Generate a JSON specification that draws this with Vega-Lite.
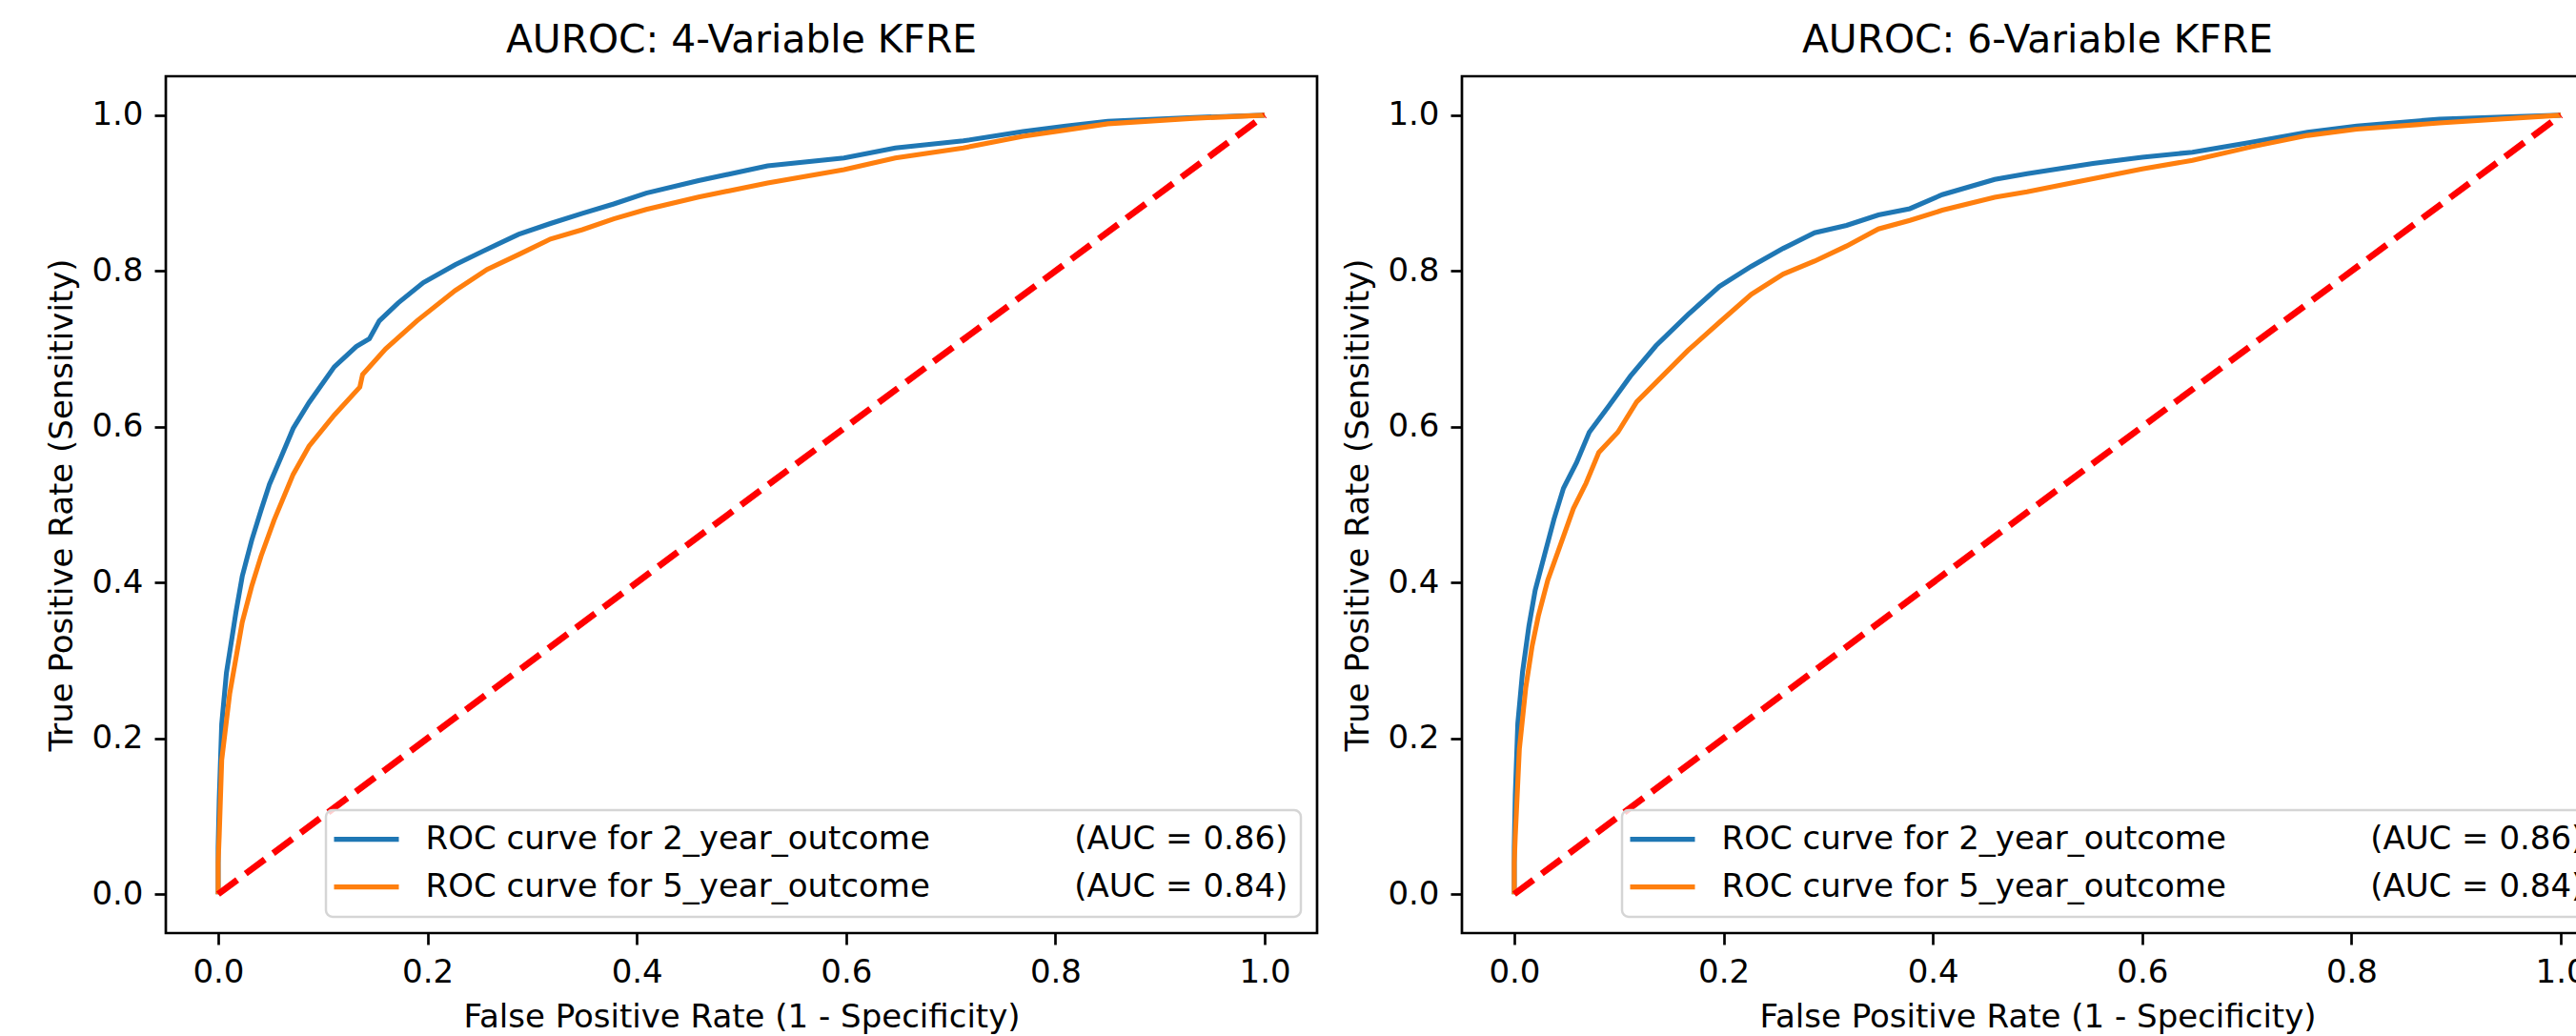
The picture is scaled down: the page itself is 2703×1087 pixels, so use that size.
{
  "$schema": "https://vega.github.io/schema/vega-lite/v6.json",
  "background": "white",
  "padding": {"left": 47, "top": 20, "right": 0, "bottom": 0},
  "bounds": "flush",
  "spacing": 152,
  "datasets": {
    "roc": [
      {"model": "4-Variable KFRE", "curve": "ROC curve for 2_year_outcome (AUC = 0.86)", "fpr": 0, "tpr": 0},
      {"model": "4-Variable KFRE", "curve": "ROC curve for 2_year_outcome (AUC = 0.86)", "fpr": 0, "tpr": 0.06},
      {"model": "4-Variable KFRE", "curve": "ROC curve for 2_year_outcome (AUC = 0.86)", "fpr": 0.001, "tpr": 0.12},
      {"model": "4-Variable KFRE", "curve": "ROC curve for 2_year_outcome (AUC = 0.86)", "fpr": 0.0034, "tpr": 0.218},
      {"model": "4-Variable KFRE", "curve": "ROC curve for 2_year_outcome (AUC = 0.86)", "fpr": 0.0079, "tpr": 0.284},
      {"model": "4-Variable KFRE", "curve": "ROC curve for 2_year_outcome (AUC = 0.86)", "fpr": 0.014, "tpr": 0.336},
      {"model": "4-Variable KFRE", "curve": "ROC curve for 2_year_outcome (AUC = 0.86)", "fpr": 0.017, "tpr": 0.362},
      {"model": "4-Variable KFRE", "curve": "ROC curve for 2_year_outcome (AUC = 0.86)", "fpr": 0.023, "tpr": 0.408},
      {"model": "4-Variable KFRE", "curve": "ROC curve for 2_year_outcome (AUC = 0.86)", "fpr": 0.032, "tpr": 0.454},
      {"model": "4-Variable KFRE", "curve": "ROC curve for 2_year_outcome (AUC = 0.86)", "fpr": 0.041, "tpr": 0.493},
      {"model": "4-Variable KFRE", "curve": "ROC curve for 2_year_outcome (AUC = 0.86)", "fpr": 0.049, "tpr": 0.526},
      {"model": "4-Variable KFRE", "curve": "ROC curve for 2_year_outcome (AUC = 0.86)", "fpr": 0.0595, "tpr": 0.559},
      {"model": "4-Variable KFRE", "curve": "ROC curve for 2_year_outcome (AUC = 0.86)", "fpr": 0.0717, "tpr": 0.598},
      {"model": "4-Variable KFRE", "curve": "ROC curve for 2_year_outcome (AUC = 0.86)", "fpr": 0.0868, "tpr": 0.631},
      {"model": "4-Variable KFRE", "curve": "ROC curve for 2_year_outcome (AUC = 0.86)", "fpr": 0.111, "tpr": 0.677},
      {"model": "4-Variable KFRE", "curve": "ROC curve for 2_year_outcome (AUC = 0.86)", "fpr": 0.132, "tpr": 0.703},
      {"model": "4-Variable KFRE", "curve": "ROC curve for 2_year_outcome (AUC = 0.86)", "fpr": 0.1445, "tpr": 0.713},
      {"model": "4-Variable KFRE", "curve": "ROC curve for 2_year_outcome (AUC = 0.86)", "fpr": 0.154, "tpr": 0.736},
      {"model": "4-Variable KFRE", "curve": "ROC curve for 2_year_outcome (AUC = 0.86)", "fpr": 0.172, "tpr": 0.759},
      {"model": "4-Variable KFRE", "curve": "ROC curve for 2_year_outcome (AUC = 0.86)", "fpr": 0.196, "tpr": 0.785},
      {"model": "4-Variable KFRE", "curve": "ROC curve for 2_year_outcome (AUC = 0.86)", "fpr": 0.2265, "tpr": 0.808},
      {"model": "4-Variable KFRE", "curve": "ROC curve for 2_year_outcome (AUC = 0.86)", "fpr": 0.257, "tpr": 0.828},
      {"model": "4-Variable KFRE", "curve": "ROC curve for 2_year_outcome (AUC = 0.86)", "fpr": 0.287, "tpr": 0.847},
      {"model": "4-Variable KFRE", "curve": "ROC curve for 2_year_outcome (AUC = 0.86)", "fpr": 0.3175, "tpr": 0.861},
      {"model": "4-Variable KFRE", "curve": "ROC curve for 2_year_outcome (AUC = 0.86)", "fpr": 0.348, "tpr": 0.874},
      {"model": "4-Variable KFRE", "curve": "ROC curve for 2_year_outcome (AUC = 0.86)", "fpr": 0.378, "tpr": 0.886},
      {"model": "4-Variable KFRE", "curve": "ROC curve for 2_year_outcome (AUC = 0.86)", "fpr": 0.409, "tpr": 0.9},
      {"model": "4-Variable KFRE", "curve": "ROC curve for 2_year_outcome (AUC = 0.86)", "fpr": 0.459, "tpr": 0.916},
      {"model": "4-Variable KFRE", "curve": "ROC curve for 2_year_outcome (AUC = 0.86)", "fpr": 0.525, "tpr": 0.935},
      {"model": "4-Variable KFRE", "curve": "ROC curve for 2_year_outcome (AUC = 0.86)", "fpr": 0.598, "tpr": 0.945},
      {"model": "4-Variable KFRE", "curve": "ROC curve for 2_year_outcome (AUC = 0.86)", "fpr": 0.647, "tpr": 0.958},
      {"model": "4-Variable KFRE", "curve": "ROC curve for 2_year_outcome (AUC = 0.86)", "fpr": 0.712, "tpr": 0.967},
      {"model": "4-Variable KFRE", "curve": "ROC curve for 2_year_outcome (AUC = 0.86)", "fpr": 0.769, "tpr": 0.979},
      {"model": "4-Variable KFRE", "curve": "ROC curve for 2_year_outcome (AUC = 0.86)", "fpr": 0.81, "tpr": 0.986},
      {"model": "4-Variable KFRE", "curve": "ROC curve for 2_year_outcome (AUC = 0.86)", "fpr": 0.85, "tpr": 0.992},
      {"model": "4-Variable KFRE", "curve": "ROC curve for 2_year_outcome (AUC = 0.86)", "fpr": 0.932, "tpr": 0.997},
      {"model": "4-Variable KFRE", "curve": "ROC curve for 2_year_outcome (AUC = 0.86)", "fpr": 1, "tpr": 1},
      {"model": "4-Variable KFRE", "curve": "ROC curve for 5_year_outcome (AUC = 0.84)", "fpr": 0, "tpr": 0},
      {"model": "4-Variable KFRE", "curve": "ROC curve for 5_year_outcome (AUC = 0.84)", "fpr": 0, "tpr": 0.04},
      {"model": "4-Variable KFRE", "curve": "ROC curve for 5_year_outcome (AUC = 0.84)", "fpr": 0.001, "tpr": 0.074},
      {"model": "4-Variable KFRE", "curve": "ROC curve for 5_year_outcome (AUC = 0.84)", "fpr": 0.0034, "tpr": 0.172},
      {"model": "4-Variable KFRE", "curve": "ROC curve for 5_year_outcome (AUC = 0.84)", "fpr": 0.011, "tpr": 0.257},
      {"model": "4-Variable KFRE", "curve": "ROC curve for 5_year_outcome (AUC = 0.84)", "fpr": 0.017, "tpr": 0.303},
      {"model": "4-Variable KFRE", "curve": "ROC curve for 5_year_outcome (AUC = 0.84)", "fpr": 0.023, "tpr": 0.349},
      {"model": "4-Variable KFRE", "curve": "ROC curve for 5_year_outcome (AUC = 0.84)", "fpr": 0.032, "tpr": 0.395},
      {"model": "4-Variable KFRE", "curve": "ROC curve for 5_year_outcome (AUC = 0.84)", "fpr": 0.041, "tpr": 0.434},
      {"model": "4-Variable KFRE", "curve": "ROC curve for 5_year_outcome (AUC = 0.84)", "fpr": 0.0534, "tpr": 0.48},
      {"model": "4-Variable KFRE", "curve": "ROC curve for 5_year_outcome (AUC = 0.84)", "fpr": 0.0717, "tpr": 0.539},
      {"model": "4-Variable KFRE", "curve": "ROC curve for 5_year_outcome (AUC = 0.84)", "fpr": 0.0868, "tpr": 0.575},
      {"model": "4-Variable KFRE", "curve": "ROC curve for 5_year_outcome (AUC = 0.84)", "fpr": 0.111, "tpr": 0.615},
      {"model": "4-Variable KFRE", "curve": "ROC curve for 5_year_outcome (AUC = 0.84)", "fpr": 0.1354, "tpr": 0.651},
      {"model": "4-Variable KFRE", "curve": "ROC curve for 5_year_outcome (AUC = 0.84)", "fpr": 0.138, "tpr": 0.667},
      {"model": "4-Variable KFRE", "curve": "ROC curve for 5_year_outcome (AUC = 0.84)", "fpr": 0.16, "tpr": 0.7},
      {"model": "4-Variable KFRE", "curve": "ROC curve for 5_year_outcome (AUC = 0.84)", "fpr": 0.19, "tpr": 0.736},
      {"model": "4-Variable KFRE", "curve": "ROC curve for 5_year_outcome (AUC = 0.84)", "fpr": 0.2265, "tpr": 0.775},
      {"model": "4-Variable KFRE", "curve": "ROC curve for 5_year_outcome (AUC = 0.84)", "fpr": 0.257, "tpr": 0.802},
      {"model": "4-Variable KFRE", "curve": "ROC curve for 5_year_outcome (AUC = 0.84)", "fpr": 0.287, "tpr": 0.821},
      {"model": "4-Variable KFRE", "curve": "ROC curve for 5_year_outcome (AUC = 0.84)", "fpr": 0.3175, "tpr": 0.841},
      {"model": "4-Variable KFRE", "curve": "ROC curve for 5_year_outcome (AUC = 0.84)", "fpr": 0.348, "tpr": 0.853},
      {"model": "4-Variable KFRE", "curve": "ROC curve for 5_year_outcome (AUC = 0.84)", "fpr": 0.378, "tpr": 0.867},
      {"model": "4-Variable KFRE", "curve": "ROC curve for 5_year_outcome (AUC = 0.84)", "fpr": 0.409, "tpr": 0.879},
      {"model": "4-Variable KFRE", "curve": "ROC curve for 5_year_outcome (AUC = 0.84)", "fpr": 0.459, "tpr": 0.895},
      {"model": "4-Variable KFRE", "curve": "ROC curve for 5_year_outcome (AUC = 0.84)", "fpr": 0.525, "tpr": 0.913},
      {"model": "4-Variable KFRE", "curve": "ROC curve for 5_year_outcome (AUC = 0.84)", "fpr": 0.598, "tpr": 0.93},
      {"model": "4-Variable KFRE", "curve": "ROC curve for 5_year_outcome (AUC = 0.84)", "fpr": 0.647, "tpr": 0.945},
      {"model": "4-Variable KFRE", "curve": "ROC curve for 5_year_outcome (AUC = 0.84)", "fpr": 0.712, "tpr": 0.958},
      {"model": "4-Variable KFRE", "curve": "ROC curve for 5_year_outcome (AUC = 0.84)", "fpr": 0.769, "tpr": 0.973},
      {"model": "4-Variable KFRE", "curve": "ROC curve for 5_year_outcome (AUC = 0.84)", "fpr": 0.81, "tpr": 0.981},
      {"model": "4-Variable KFRE", "curve": "ROC curve for 5_year_outcome (AUC = 0.84)", "fpr": 0.85, "tpr": 0.989},
      {"model": "4-Variable KFRE", "curve": "ROC curve for 5_year_outcome (AUC = 0.84)", "fpr": 0.932, "tpr": 0.996},
      {"model": "4-Variable KFRE", "curve": "ROC curve for 5_year_outcome (AUC = 0.84)", "fpr": 1, "tpr": 1},
      {"model": "6-Variable KFRE", "curve": "ROC curve for 2_year_outcome (AUC = 0.86)", "fpr": 0, "tpr": 0},
      {"model": "6-Variable KFRE", "curve": "ROC curve for 2_year_outcome (AUC = 0.86)", "fpr": 0, "tpr": 0.06},
      {"model": "6-Variable KFRE", "curve": "ROC curve for 2_year_outcome (AUC = 0.86)", "fpr": 0.001, "tpr": 0.128},
      {"model": "6-Variable KFRE", "curve": "ROC curve for 2_year_outcome (AUC = 0.86)", "fpr": 0.0034, "tpr": 0.219},
      {"model": "6-Variable KFRE", "curve": "ROC curve for 2_year_outcome (AUC = 0.86)", "fpr": 0.0079, "tpr": 0.285},
      {"model": "6-Variable KFRE", "curve": "ROC curve for 2_year_outcome (AUC = 0.86)", "fpr": 0.014, "tpr": 0.344},
      {"model": "6-Variable KFRE", "curve": "ROC curve for 2_year_outcome (AUC = 0.86)", "fpr": 0.02, "tpr": 0.39},
      {"model": "6-Variable KFRE", "curve": "ROC curve for 2_year_outcome (AUC = 0.86)", "fpr": 0.029, "tpr": 0.436},
      {"model": "6-Variable KFRE", "curve": "ROC curve for 2_year_outcome (AUC = 0.86)", "fpr": 0.038, "tpr": 0.4815},
      {"model": "6-Variable KFRE", "curve": "ROC curve for 2_year_outcome (AUC = 0.86)", "fpr": 0.047, "tpr": 0.521},
      {"model": "6-Variable KFRE", "curve": "ROC curve for 2_year_outcome (AUC = 0.86)", "fpr": 0.0595, "tpr": 0.554},
      {"model": "6-Variable KFRE", "curve": "ROC curve for 2_year_outcome (AUC = 0.86)", "fpr": 0.0717, "tpr": 0.593},
      {"model": "6-Variable KFRE", "curve": "ROC curve for 2_year_outcome (AUC = 0.86)", "fpr": 0.09, "tpr": 0.626},
      {"model": "6-Variable KFRE", "curve": "ROC curve for 2_year_outcome (AUC = 0.86)", "fpr": 0.111, "tpr": 0.665},
      {"model": "6-Variable KFRE", "curve": "ROC curve for 2_year_outcome (AUC = 0.86)", "fpr": 0.1354, "tpr": 0.704},
      {"model": "6-Variable KFRE", "curve": "ROC curve for 2_year_outcome (AUC = 0.86)", "fpr": 0.166, "tpr": 0.744},
      {"model": "6-Variable KFRE", "curve": "ROC curve for 2_year_outcome (AUC = 0.86)", "fpr": 0.196, "tpr": 0.78},
      {"model": "6-Variable KFRE", "curve": "ROC curve for 2_year_outcome (AUC = 0.86)", "fpr": 0.2265, "tpr": 0.806},
      {"model": "6-Variable KFRE", "curve": "ROC curve for 2_year_outcome (AUC = 0.86)", "fpr": 0.257, "tpr": 0.829},
      {"model": "6-Variable KFRE", "curve": "ROC curve for 2_year_outcome (AUC = 0.86)", "fpr": 0.287, "tpr": 0.849},
      {"model": "6-Variable KFRE", "curve": "ROC curve for 2_year_outcome (AUC = 0.86)", "fpr": 0.3175, "tpr": 0.8585},
      {"model": "6-Variable KFRE", "curve": "ROC curve for 2_year_outcome (AUC = 0.86)", "fpr": 0.348, "tpr": 0.872},
      {"model": "6-Variable KFRE", "curve": "ROC curve for 2_year_outcome (AUC = 0.86)", "fpr": 0.378, "tpr": 0.88},
      {"model": "6-Variable KFRE", "curve": "ROC curve for 2_year_outcome (AUC = 0.86)", "fpr": 0.409, "tpr": 0.898},
      {"model": "6-Variable KFRE", "curve": "ROC curve for 2_year_outcome (AUC = 0.86)", "fpr": 0.459, "tpr": 0.9175},
      {"model": "6-Variable KFRE", "curve": "ROC curve for 2_year_outcome (AUC = 0.86)", "fpr": 0.49, "tpr": 0.925},
      {"model": "6-Variable KFRE", "curve": "ROC curve for 2_year_outcome (AUC = 0.86)", "fpr": 0.553, "tpr": 0.938},
      {"model": "6-Variable KFRE", "curve": "ROC curve for 2_year_outcome (AUC = 0.86)", "fpr": 0.6, "tpr": 0.946},
      {"model": "6-Variable KFRE", "curve": "ROC curve for 2_year_outcome (AUC = 0.86)", "fpr": 0.648, "tpr": 0.9525},
      {"model": "6-Variable KFRE", "curve": "ROC curve for 2_year_outcome (AUC = 0.86)", "fpr": 0.703, "tpr": 0.965},
      {"model": "6-Variable KFRE", "curve": "ROC curve for 2_year_outcome (AUC = 0.86)", "fpr": 0.758, "tpr": 0.978},
      {"model": "6-Variable KFRE", "curve": "ROC curve for 2_year_outcome (AUC = 0.86)", "fpr": 0.805, "tpr": 0.986},
      {"model": "6-Variable KFRE", "curve": "ROC curve for 2_year_outcome (AUC = 0.86)", "fpr": 0.884, "tpr": 0.995},
      {"model": "6-Variable KFRE", "curve": "ROC curve for 2_year_outcome (AUC = 0.86)", "fpr": 1, "tpr": 1},
      {"model": "6-Variable KFRE", "curve": "ROC curve for 5_year_outcome (AUC = 0.84)", "fpr": 0, "tpr": 0},
      {"model": "6-Variable KFRE", "curve": "ROC curve for 5_year_outcome (AUC = 0.84)", "fpr": 0, "tpr": 0.04},
      {"model": "6-Variable KFRE", "curve": "ROC curve for 5_year_outcome (AUC = 0.84)", "fpr": 0.001, "tpr": 0.075},
      {"model": "6-Variable KFRE", "curve": "ROC curve for 5_year_outcome (AUC = 0.84)", "fpr": 0.0049, "tpr": 0.1865},
      {"model": "6-Variable KFRE", "curve": "ROC curve for 5_year_outcome (AUC = 0.84)", "fpr": 0.011, "tpr": 0.265},
      {"model": "6-Variable KFRE", "curve": "ROC curve for 5_year_outcome (AUC = 0.84)", "fpr": 0.017, "tpr": 0.318},
      {"model": "6-Variable KFRE", "curve": "ROC curve for 5_year_outcome (AUC = 0.84)", "fpr": 0.023, "tpr": 0.357},
      {"model": "6-Variable KFRE", "curve": "ROC curve for 5_year_outcome (AUC = 0.84)", "fpr": 0.032, "tpr": 0.403},
      {"model": "6-Variable KFRE", "curve": "ROC curve for 5_year_outcome (AUC = 0.84)", "fpr": 0.0443, "tpr": 0.449},
      {"model": "6-Variable KFRE", "curve": "ROC curve for 5_year_outcome (AUC = 0.84)", "fpr": 0.0565, "tpr": 0.495},
      {"model": "6-Variable KFRE", "curve": "ROC curve for 5_year_outcome (AUC = 0.84)", "fpr": 0.0686, "tpr": 0.5275},
      {"model": "6-Variable KFRE", "curve": "ROC curve for 5_year_outcome (AUC = 0.84)", "fpr": 0.0808, "tpr": 0.567},
      {"model": "6-Variable KFRE", "curve": "ROC curve for 5_year_outcome (AUC = 0.84)", "fpr": 0.099, "tpr": 0.593},
      {"model": "6-Variable KFRE", "curve": "ROC curve for 5_year_outcome (AUC = 0.84)", "fpr": 0.117, "tpr": 0.632},
      {"model": "6-Variable KFRE", "curve": "ROC curve for 5_year_outcome (AUC = 0.84)", "fpr": 0.1415, "tpr": 0.665},
      {"model": "6-Variable KFRE", "curve": "ROC curve for 5_year_outcome (AUC = 0.84)", "fpr": 0.166, "tpr": 0.698},
      {"model": "6-Variable KFRE", "curve": "ROC curve for 5_year_outcome (AUC = 0.84)", "fpr": 0.196, "tpr": 0.734},
      {"model": "6-Variable KFRE", "curve": "ROC curve for 5_year_outcome (AUC = 0.84)", "fpr": 0.2265, "tpr": 0.77},
      {"model": "6-Variable KFRE", "curve": "ROC curve for 5_year_outcome (AUC = 0.84)", "fpr": 0.257, "tpr": 0.796},
      {"model": "6-Variable KFRE", "curve": "ROC curve for 5_year_outcome (AUC = 0.84)", "fpr": 0.287, "tpr": 0.8127},
      {"model": "6-Variable KFRE", "curve": "ROC curve for 5_year_outcome (AUC = 0.84)", "fpr": 0.3175, "tpr": 0.832},
      {"model": "6-Variable KFRE", "curve": "ROC curve for 5_year_outcome (AUC = 0.84)", "fpr": 0.348, "tpr": 0.854},
      {"model": "6-Variable KFRE", "curve": "ROC curve for 5_year_outcome (AUC = 0.84)", "fpr": 0.378, "tpr": 0.865},
      {"model": "6-Variable KFRE", "curve": "ROC curve for 5_year_outcome (AUC = 0.84)", "fpr": 0.409, "tpr": 0.878},
      {"model": "6-Variable KFRE", "curve": "ROC curve for 5_year_outcome (AUC = 0.84)", "fpr": 0.459, "tpr": 0.8946},
      {"model": "6-Variable KFRE", "curve": "ROC curve for 5_year_outcome (AUC = 0.84)", "fpr": 0.49, "tpr": 0.9016},
      {"model": "6-Variable KFRE", "curve": "ROC curve for 5_year_outcome (AUC = 0.84)", "fpr": 0.553, "tpr": 0.9186},
      {"model": "6-Variable KFRE", "curve": "ROC curve for 5_year_outcome (AUC = 0.84)", "fpr": 0.6, "tpr": 0.931},
      {"model": "6-Variable KFRE", "curve": "ROC curve for 5_year_outcome (AUC = 0.84)", "fpr": 0.648, "tpr": 0.942},
      {"model": "6-Variable KFRE", "curve": "ROC curve for 5_year_outcome (AUC = 0.84)", "fpr": 0.703, "tpr": 0.959},
      {"model": "6-Variable KFRE", "curve": "ROC curve for 5_year_outcome (AUC = 0.84)", "fpr": 0.758, "tpr": 0.974},
      {"model": "6-Variable KFRE", "curve": "ROC curve for 5_year_outcome (AUC = 0.84)", "fpr": 0.805, "tpr": 0.982},
      {"model": "6-Variable KFRE", "curve": "ROC curve for 5_year_outcome (AUC = 0.84)", "fpr": 0.884, "tpr": 0.99},
      {"model": "6-Variable KFRE", "curve": "ROC curve for 5_year_outcome (AUC = 0.84)", "fpr": 1, "tpr": 1}
    ],
    "diag": [
      {"fpr": 0, "tpr": 0},
      {"fpr": 1, "tpr": 1}
    ]
  },
  "hconcat": [
    {
      "width": 1208,
      "height": 899,
      "title": "AUROC: 4-Variable KFRE",
      "layer": [
        {
          "data": {"name": "roc"},
          "transform": [{"filter": "datum.model == '4-Variable KFRE'"}],
          "mark": {"type": "line", "strokeWidth": 5.1, "interpolate": "linear"},
          "encoding": {
            "x": {"field": "fpr", "type": "quantitative", "title": "False Positive Rate (1 - Specificity)", "scale": {"domain": [-0.05, 1.05], "nice": false, "zero": false}, "axis": {"values": [0, 0.2, 0.4, 0.6, 0.8, 1.0], "format": ".1f"}},
            "y": {"field": "tpr", "type": "quantitative", "title": "True Positive Rate (Sensitivity)", "scale": {"domain": [-0.05, 1.05], "nice": false, "zero": false}, "axis": {"values": [0, 0.2, 0.4, 0.6, 0.8, 1.0], "format": ".1f"}},
            "color": {"field": "curve", "type": "nominal", "scale": {"range": ["#1f77b4", "#ff7f0e"]},
              "legend": {"title": null, "orient": "bottom-right", "offset": 17, "padding": 13.6, "fillColor": "rgba(255,255,255,0.8)", "strokeColor": "#d5d5d5", "cornerRadius": 7, "symbolType": "M-2.6,0H5.4", "symbolSize": 289, "symbolStrokeWidth": 5.1, "labelFont": "DejaVu Sans", "labelFontSize": 34, "labelColor": "black", "labelOffset": 57, "labelLimit": 3000, "rowPadding": 16,
                "labelExpr": "replace(datum.label, ' (AUC', '\u00a0\u00a0\u00a0\u00a0\u00a0\u00a0\u00a0\u00a0\u00a0\u00a0\u00a0\u00a0\u00a0\u00a0(AUC')"}},
            "order": {"field": "tpr", "type": "quantitative"}
          }
        },
        {
          "data": {"name": "diag"},
          "mark": {"type": "line", "color": "#ff0000", "strokeWidth": 6.8, "strokeDash": [25, 11]},
          "encoding": {
            "x": {"field": "fpr", "type": "quantitative"},
            "y": {"field": "tpr", "type": "quantitative"}
          }
        }
      ]
    },
    {
      "width": 1208,
      "height": 899,
      "title": "AUROC: 6-Variable KFRE",
      "layer": [
        {
          "data": {"name": "roc"},
          "transform": [{"filter": "datum.model == '6-Variable KFRE'"}],
          "mark": {"type": "line", "strokeWidth": 5.1, "interpolate": "linear"},
          "encoding": {
            "x": {"field": "fpr", "type": "quantitative", "title": "False Positive Rate (1 - Specificity)", "scale": {"domain": [-0.05, 1.05], "nice": false, "zero": false}, "axis": {"values": [0, 0.2, 0.4, 0.6, 0.8, 1.0], "format": ".1f"}},
            "y": {"field": "tpr", "type": "quantitative", "title": "True Positive Rate (Sensitivity)", "scale": {"domain": [-0.05, 1.05], "nice": false, "zero": false}, "axis": {"values": [0, 0.2, 0.4, 0.6, 0.8, 1.0], "format": ".1f"}},
            "color": {"field": "curve", "type": "nominal", "scale": {"range": ["#1f77b4", "#ff7f0e"]},
              "legend": {"title": null, "orient": "bottom-right", "offset": 17, "padding": 13.6, "fillColor": "rgba(255,255,255,0.8)", "strokeColor": "#d5d5d5", "cornerRadius": 7, "symbolType": "M-2.6,0H5.4", "symbolSize": 289, "symbolStrokeWidth": 5.1, "labelFont": "DejaVu Sans", "labelFontSize": 34, "labelColor": "black", "labelOffset": 57, "labelLimit": 3000, "rowPadding": 16,
                "labelExpr": "replace(datum.label, ' (AUC', '\u00a0\u00a0\u00a0\u00a0\u00a0\u00a0\u00a0\u00a0\u00a0\u00a0\u00a0\u00a0\u00a0\u00a0(AUC')"}},
            "order": {"field": "tpr", "type": "quantitative"}
          }
        },
        {
          "data": {"name": "diag"},
          "mark": {"type": "line", "color": "#ff0000", "strokeWidth": 6.8, "strokeDash": [25, 11]},
          "encoding": {
            "x": {"field": "fpr", "type": "quantitative"},
            "y": {"field": "tpr", "type": "quantitative"}
          }
        }
      ]
    }
  ],
  "resolve": {"scale": {"color": "independent"}, "legend": {"color": "independent"}},
  "config": {
    "font": "DejaVu Sans",
    "view": {"stroke": "#000000", "strokeWidth": 2.7},
    "title": {"font": "DejaVu Sans", "fontSize": 40.8, "fontWeight": "normal", "color": "black", "anchor": "middle", "baseline": "alphabetic", "offset": 16},
    "axis": {
      "domain": false, "grid": false,
      "tickColor": "black", "tickSize": 12, "tickWidth": 2.7,
      "labelFont": "DejaVu Sans", "labelFontSize": 34, "labelColor": "black", "labelPadding": 12, "labelFlush": false, "labelOverlap": false,
      "titleFont": "DejaVu Sans", "titleFontSize": 34, "titleFontWeight": "normal", "titleColor": "black", "titlePadding": 13
    },
    "legend": {"strokeWidth": 2.5}
  }
}
